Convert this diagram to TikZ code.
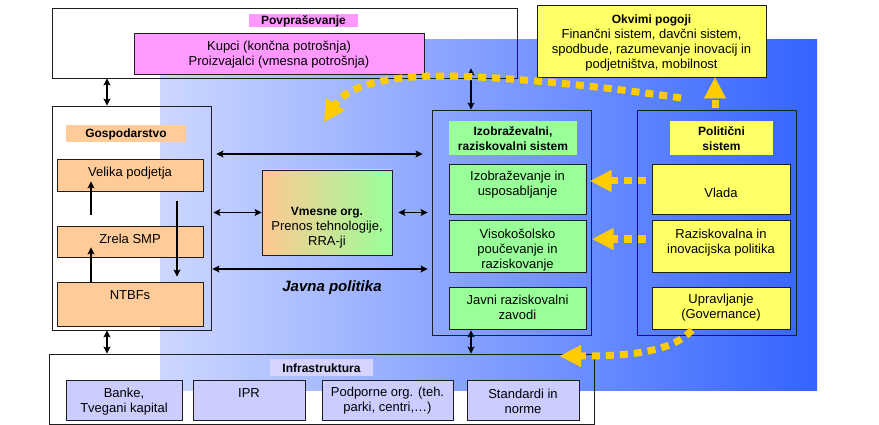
\documentclass[tikz,border=0pt]{standalone}
\usepackage{fontspec}
\setmainfont{Liberation Sans}
\usetikzlibrary{arrows.meta}

\definecolor{pinkfill}{HTML}{FF99FF}
\definecolor{peachfill}{HTML}{FFCC99}
\definecolor{greenfill}{HTML}{99FF99}
\definecolor{yellowfill}{HTML}{FFFF66}
\definecolor{lavfill}{HTML}{CCCCFF}
\definecolor{lavlabel}{HTML}{D4D4FF}
\definecolor{dotyellow}{HTML}{FFCC00}
\definecolor{bgleft}{RGB}{205,215,255}
\definecolor{bgright}{RGB}{52,100,255}
\definecolor{edge}{HTML}{1E1E1E}

\tikzset{
  dims/.style 2 args={minimum width=#1pt, minimum height=#2pt},
  frame/.style={draw=edge, line width=0.9pt, inner sep=0pt},
  box/.style={draw=edge, line width=0.9pt, inner sep=0pt, fill=#1},
  tag/.style={inner sep=0pt, fill=#1},
  txt/.style={align=center, inner sep=0pt, text=black, font=\fontsize{13}{15}\selectfont},
  ttl/.style={align=center, inner sep=0pt, text=black, font=\fontsize{12}{15}\selectfont\bfseries},
  tipS/.tip={Stealth[length=7pt, width=7pt, inset=1.5pt]},
  dbl/.style={draw=black, line width=1.3pt, tipS-tipS},
  sgl/.style={draw=black, line width=1.3pt, -tipS},
  ydots/.style={draw=dotyellow, line width=7pt, dash pattern=on 8pt off 6pt,
    -{Triangle[length=21pt, width=22pt, line width=0.4pt]}},
}

\begin{document}
\begin{tikzpicture}[x=1pt, y=-1pt]
\useasboundingbox (0,0) rectangle (879,425);
\fill[white] (0,0) rectangle (879,425);

% blue field behind the systems
\shade[left color=bgleft, right color=bgright] (160,40) rectangle (817,390);

% outer frames
\node[frame, dims={465}{70}]  (povp)  at (284.5,43)  {};
\node[frame, dims={159}{224}] (gosp)  at (131.5,218) {};
\node[frame, dims={159}{225}] (izob)  at (511.5,222.5) {};
\node[frame, dims={159}{225}] (polit) at (716.5,222.5) {};
\node[frame, dims={545}{70}]  (infra) at (321.5,389) {};

% frame titles
\node[tag=pinkfill,  dims={109}{13}] (povpL)  at (303.5,20.5) {};
\node[ttl] (povpT) at (303.5,21) {Povpraševanje};
\node[tag=peachfill, dims={120}{17}] (gospL)  at (126,133.5) {};
\node[ttl] (gospT) at (126,134) {Gospodarstvo};
\node[tag=greenfill, dims={128}{34}] (izobL)  at (513,138) {};
\node[ttl] (izobT) at (513,138.5) {Izobraževalni,\\raziskovalni sistem};
\node[tag=yellowfill, dims={103}{34}] (politL) at (721.5,138) {};
\node[ttl] (politT) at (721.5,138.5) {Politični\\sistem};
\node[tag=lavlabel, dims={103}{17}] (infraL) at (321.5,367.5) {};
\node[ttl] (infraT) at (321.5,368) {Infrastruktura};

% demand
\node[box=pinkfill, dims={290}{41}] (kupci) at (279,53.5) {};
\node[txt] (kupciT) at (279,55) {Kupci (končna potrošnja)\\Proizvajalci (vmesna potrošnja)};

% framework conditions
\node[box=yellowfill, dims={229}{72}] (okvimi) at (651.5,41) {};
\node[txt] (okvimiT) at (651.5,43)
  {{\fontsize{12}{15}\selectfont\bfseries Okvimi pogoji}\\Finančni sistem, davčni sistem,\\spodbude, razumevanje inovacij in\\podjetništva, mobilnost};

% firms
\node[box=peachfill, dims={146}{32}] (velika) at (130,175)   {};
\node[txt] (velikaT) at (130,173) {Velika podjetja};
\node[box=peachfill, dims={146}{31}] (zrela)  at (130,241.5) {};
\node[txt] (zrelaT) at (130,239) {Zrela SMP};
\node[box=peachfill, dims={146}{44}] (ntbfs)  at (130,304)   {};
\node[txt] (ntbfsT) at (130,295) {NTBFs};

% intermediaries
\node[draw=edge, line width=0.9pt, inner sep=0pt, dims={130}{85},
      left color=peachfill!95!orange, right color=greenfill] (vmesne) at (327,212.5) {};
\node[txt] (vmesneT) at (327,228)
  {{\fontsize{12}{15}\selectfont\bfseries Vmesne org.}\\Prenos tehnologije,\\RRA-ji};

% education and research
\node[box=greenfill, dims={137}{50}] (izobr) at (517.5,189) {};
\node[txt] (izobrT) at (517.5,185) {Izobraževanje in\\usposabljanje};
\node[box=greenfill, dims={137}{52}] (visok) at (517.5,246) {};
\node[txt] (visokT) at (517.5,250) {Visokošolsko\\poučevanje in\\raziskovanje};
\node[box=greenfill, dims={137}{42}] (javni) at (517.5,308) {};
\node[txt] (javniT) at (517.5,307.5) {Javni raziskovalni\\zavodi};

% political system
\node[box=yellowfill, dims={138}{50}] (vlada)  at (721,189) {};
\node[txt] (vladaT) at (721,193) {Vlada};
\node[box=yellowfill, dims={138}{52}] (razisk) at (721,246) {};
\node[txt] (raziskT) at (721,242.5) {Raziskovalna in\\inovacijska politika};
\node[box=yellowfill, dims={138}{42}] (uprav)  at (721,308) {};
\node[txt] (upravT) at (721,308) {Upravljanje\\(Governance)};

% infrastructure
\node[box=lavfill, dims={116}{40}] (banke) at (124,400)   {};
\node[txt] (bankeT) at (124,401.5) {Banke,\\Tvegani kapital};
\node[box=lavfill, dims={112}{40}] (ipr)   at (249,400)   {};
\node[txt] (iprT) at (249,393) {IPR};
\node[box=lavfill, dims={131}{40}] (podp)  at (387.5,400) {};
\node[txt] (podpT) at (387.5,401) {Podporne org. (teh.\\parki, centri,…)};
\node[box=lavfill, dims={112}{40}] (stand) at (523,400)   {};
\node[txt] (standT) at (523,401.5) {Standardi in\\norme};

% public policy caption
\node[inner sep=0pt, font=\fontsize{15}{18}\selectfont\bfseries\itshape] (javna) at (332,288) {Javna politika};

% guide coordinates for connector lines
\coordinate (xl)  at (107,0);
\coordinate (xm)  at (471,0);
\coordinate (xup) at (91,0);
\coordinate (xdn) at (177,0);
\coordinate (xo)  at (715,0);
\coordinate (yh1) at (0,154);
\coordinate (yh4) at (0,269);
\coordinate (yy1) at (0,181);
\coordinate (yy2) at (0,239);

% black connectors
\draw[dbl] (povp.south -| xl) -- (gosp.north -| xl);
\draw[dbl, shorten <=-10pt] (povp.south -| xm) -- (izob.north -| xm);
\draw[dbl] (gosp.south -| xl) -- (infra.north -| xl);
\draw[dbl, shorten >=-5pt] (infra.north -| xm) -- (izob.south -| xm);
\draw[dbl, shorten <=5pt, shorten >=9pt] (gosp.east |- yh1) -- (izob.west |- yh1);
\draw[dbl, shorten <=2pt] (gosp.east |- vmesne) -- (vmesne.west);
\draw[dbl, shorten <=6pt, shorten >=4pt] (vmesne.east) -- (izob.west |- vmesne);
\draw[dbl, shorten <=1pt, shorten >=4pt] (gosp.east |- yh4) -- (izob.west |- yh4);
\draw[sgl, shorten <=11pt, shorten >=-10pt] (zrela.north -| xup) -- (velika.south -| xup);
\draw[sgl, shorten >=-10pt] (ntbfs.north -| xup) -- (zrela.south -| xup);
\draw[sgl, shorten <=10pt, shorten >=5pt] (velika.south -| xdn) -- (ntbfs.north -| xdn);

% yellow influence arrows
\coordinate (arcA) at (681,98);
\coordinate (arcB) at (324,122);
\coordinate (lowA) at (692,330);
\coordinate (lowB) at (560,356);
\draw[ydots] (arcA) .. controls (600,86) and (500,76) .. (440,76)
                    .. controls (400,76) and (350,82) .. (arcB);
\draw[ydots, shorten <=2pt] (polit.north -| xo) -- (okvimi.south -| xo);
\draw[ydots, shorten <=-9pt, shorten >=4pt] (polit.west |- yy1) -- (izobr.east |- yy1);
\draw[ydots, shorten <=-9pt, shorten >=6pt] (polit.west |- yy2) -- (visok.east |- yy2);
\draw[ydots] (lowA) .. controls (672,352) and (630,356) .. (lowB);
\end{tikzpicture}
\end{document}
